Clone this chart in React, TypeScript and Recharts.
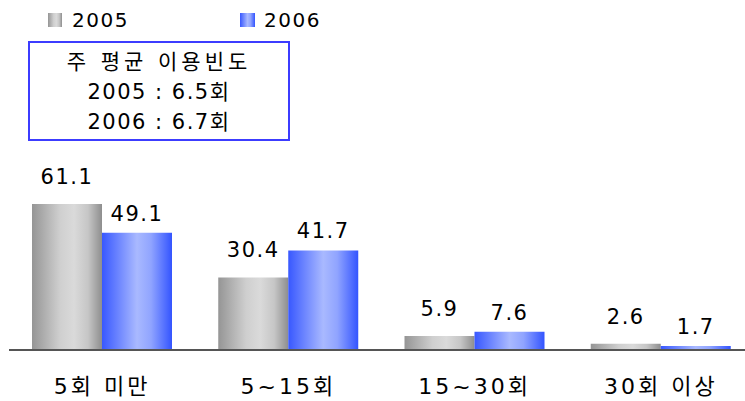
import { BarChart, Bar, XAxis, YAxis, LabelList } from 'recharts'

const categories = ['5회 미만', '5~15회', '15~30회', '30회 이상']
const values2005 = [61.1, 30.4, 5.9, 2.6]
const values2006 = [49.1, 41.7, 7.6, 1.7]
const seriesNames = ['2005', '2006']
const boxLines = ['주 평균 이용빈도', '2005 : 6.5회', '2006 : 6.7회']

const FONT = '"DejaVu Sans", "Noto Sans CJK KR", sans-serif'

const data = categories.map((name, i) => ({
  name,
  y2005: values2005[i],
  y2006: values2006[i],
}))

const grayGrad = 'linear-gradient(to right, #959595 0%, #cfcfcf 40%, #dadada 60%, #c6c6c6 80%, #8e8e8e 100%)'
const blueGrad = 'linear-gradient(to right, #3858ff 0%, #a9b9ff 50%, #90a4ff 70%, #3354ff 100%)'

function CategoryTick(props: any) {
  const { x, y, payload } = props
  return (
    <text
      x={x}
      y={y + 28}
      textAnchor="middle"
      dominantBaseline="central"
      fontSize={22}
      letterSpacing={3}
      fill="#000"
      fontFamily={FONT}
    >
      {payload.value}
    </text>
  )
}

export default function App() {
  return (
    <div style={{ position: 'relative', width: 745, height: 401, overflow: 'hidden', background: '#fff', fontFamily: FONT }}>
      <style>{'body{margin:0;}'}</style>

      {/* legend */}
      <div style={{ position: 'absolute', left: 48, top: 13, width: 14, height: 14, background: grayGrad }} />
      <div style={{ position: 'absolute', left: 72, top: 8, fontSize: 20, lineHeight: '24px', letterSpacing: 1.5 }}>{seriesNames[0]}</div>
      <div style={{ position: 'absolute', left: 240, top: 13, width: 15, height: 14, background: blueGrad }} />
      <div style={{ position: 'absolute', left: 264, top: 8, fontSize: 20, lineHeight: '24px', letterSpacing: 1.5 }}>{seriesNames[1]}</div>

      {/* average box */}
      <div
        style={{
          position: 'absolute',
          left: 28,
          top: 41,
          width: 258,
          height: 92,
          border: '2px solid #3c3cff',
          textAlign: 'center',
          fontSize: 21,
          lineHeight: '30px',
          paddingTop: 4,
          boxSizing: 'content-box',
        }}
      >
        {boxLines.map((l, i) => (
          <div key={i} style={{ letterSpacing: i === 0 ? 4 : 1.5 }}>{l}</div>
        ))}
      </div>

      <BarChart
        width={770}
        height={401}
        data={data}
        margin={{ top: 159, right: 16, bottom: 0, left: 9 }}
        barGap={0}
        barSize={70}
        style={{ position: 'absolute', left: 0, top: 0 }}
      >
        <defs>
          <linearGradient id="g2005" x1="0" y1="0" x2="1" y2="0">
            <stop offset="0%" stopColor="#959595" />
            <stop offset="40%" stopColor="#cfcfcf" />
            <stop offset="60%" stopColor="#dadada" />
            <stop offset="80%" stopColor="#c6c6c6" />
            <stop offset="100%" stopColor="#8e8e8e" />
          </linearGradient>
          <linearGradient id="g2006" x1="0" y1="0" x2="1" y2="0">
            <stop offset="0%" stopColor="#3858ff" />
            <stop offset="50%" stopColor="#a9b9ff" />
            <stop offset="70%" stopColor="#90a4ff" />
            <stop offset="100%" stopColor="#3354ff" />
          </linearGradient>
        </defs>
        <XAxis
          dataKey="name"
          height={51}
          axisLine={{ stroke: '#555', strokeWidth: 2 }}
          tickLine={false}
          tick={<CategoryTick />}
          interval={0}
        />
        <YAxis hide domain={[0, 80]} />
        <Bar dataKey="y2005" fill="url(#g2005)" isAnimationActive={false}>
          <LabelList
            dataKey="y2005"
            position="top"
            offset={20}
            fill="#000"
            fontSize={21}
            fontFamily={FONT}
            letterSpacing={1.5}
          />
        </Bar>
        <Bar dataKey="y2006" fill="url(#g2006)" isAnimationActive={false}>
          <LabelList
            dataKey="y2006"
            position="top"
            offset={12}
            fill="#000"
            fontSize={21}
            fontFamily={FONT}
            letterSpacing={1.5}
          />
        </Bar>
      </BarChart>
    </div>
  )
}
